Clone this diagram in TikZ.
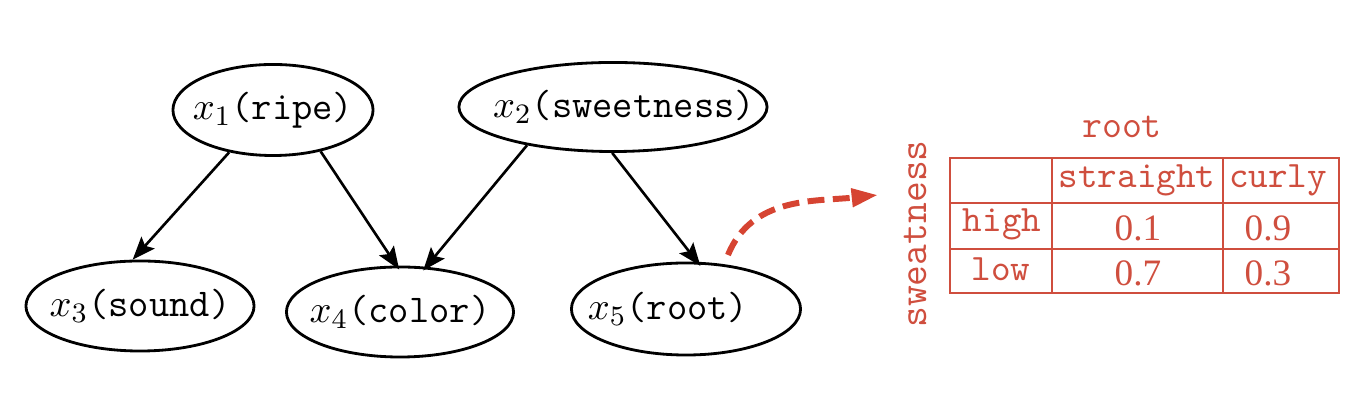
\documentclass[tikz,border=0pt]{standalone}
\usepackage{fontspec}
\newfontfamily\numfont{Liberation Serif}
\usetikzlibrary{arrows.meta,shapes.geometric}
\definecolor{tabred}{RGB}{207,78,62}
\definecolor{arrred}{RGB}{214,68,50}
\begin{document}
\begin{tikzpicture}[x=0.01cm,y=-0.01cm,
  var/.style={draw,ellipse,line width=0.8pt,inner sep=0pt,font=\fontsize{11.2}{12}\selectfont},
  edge/.style={line width=0.75pt,-{Stealth[length=6.5pt,width=5pt,inset=1.2pt]}},
  tabtxt/.style={text=tabred,font=\fontsize{10.6}{12}\selectfont\ttfamily,inner sep=0pt},
  tabnum/.style={text=tabred,font=\fontsize{10.6}{12}\selectfont\numfont,inner sep=0pt},
  tabline/.style={draw=tabred,line width=0.55pt}]
\useasboundingbox (0,0) rectangle (1360,407);
% variables
\node[var,minimum width=2.00cm,minimum height=0.91cm] (x1) at (273,110) {\makebox[0pt]{$x_1$\texttt{(ripe)}}};
\node[var,minimum width=3.08cm,minimum height=0.89cm] (x2) at (613,107) {\makebox[0pt]{\hspace*{0.22cm}$x_2$\texttt{(sweetness)}}};
\node[var,minimum width=2.28cm,minimum height=0.90cm] (x3) at (140,306) {\makebox[0pt]{$x_3$\texttt{(sound)}}};
\node[var,minimum width=2.27cm,minimum height=0.90cm] (x4) at (400,312) {\makebox[0pt]{$x_4$\texttt{(color)}}};
\node[var,minimum width=2.29cm,minimum height=0.92cm] (x5) at (686,309) {\makebox[0pt]{$x_5$\texttt{(root)}\hspace*{0.36cm}}};
% edges
\draw[edge] (x1.-136) -- (x3.99);
\draw[edge] (x1.-41) -- ([yshift=-0.04cm]x4.91);
\draw[edge] (x2.-156) -- ([yshift=-0.04cm]x4.63);
\draw[edge] (x2.-91) -- ([yshift=-0.04cm]x5.73);
% dashed arrow
\coordinate (ds) at (728,255);
\coordinate (de) at (878,195);
\draw[arrred,line width=1.7pt,dash pattern=on 4.8pt off 2.4pt,-{Triangle[length=7.5pt,width=5pt]}]
  (ds) to[out=68,in=186] (de);
% table
\coordinate (tl) at (950,158);
\coordinate (br) at (1339,293);
\draw[tabline] (tl) rectangle (br);
\coordinate (c1t) at (1052,158); \coordinate (c1b) at (1052,293);
\coordinate (c2t) at (1223,158); \coordinate (c2b) at (1223,293);
\coordinate (r1l) at (950,203); \coordinate (r1r) at (1339,203);
\coordinate (r2l) at (950,249); \coordinate (r2r) at (1339,249);
\draw[tabline] (c1t) -- (c1b);
\draw[tabline] (c2t) -- (c2b);
\draw[tabline] (r1l) -- (r1r);
\draw[tabline] (r2l) -- (r2r);
\node[tabtxt,font=\fontsize{11}{12}\selectfont\ttfamily] (root) at (1122,127) {root};
\node[tabtxt,rotate=90,font=\fontsize{11.5}{12}\selectfont\ttfamily] (swe) at (915,234) {sweatness};
\node[tabtxt] (straight) at (1137,180) {straight};
\node[tabtxt] (curly) at (1278,180) {curly};
\node[tabtxt] (high) at (1002,224) {high};
\node[tabtxt] (low) at (1001,269) {low};
\node[tabnum] (n01) at (1138,228) {0.1};
\node[tabnum] (n09) at (1268,228) {0.9};
\node[tabnum] (n07) at (1138,273) {0.7};
\node[tabnum] (n03) at (1268,273) {0.3};
\end{tikzpicture}
\end{document}
